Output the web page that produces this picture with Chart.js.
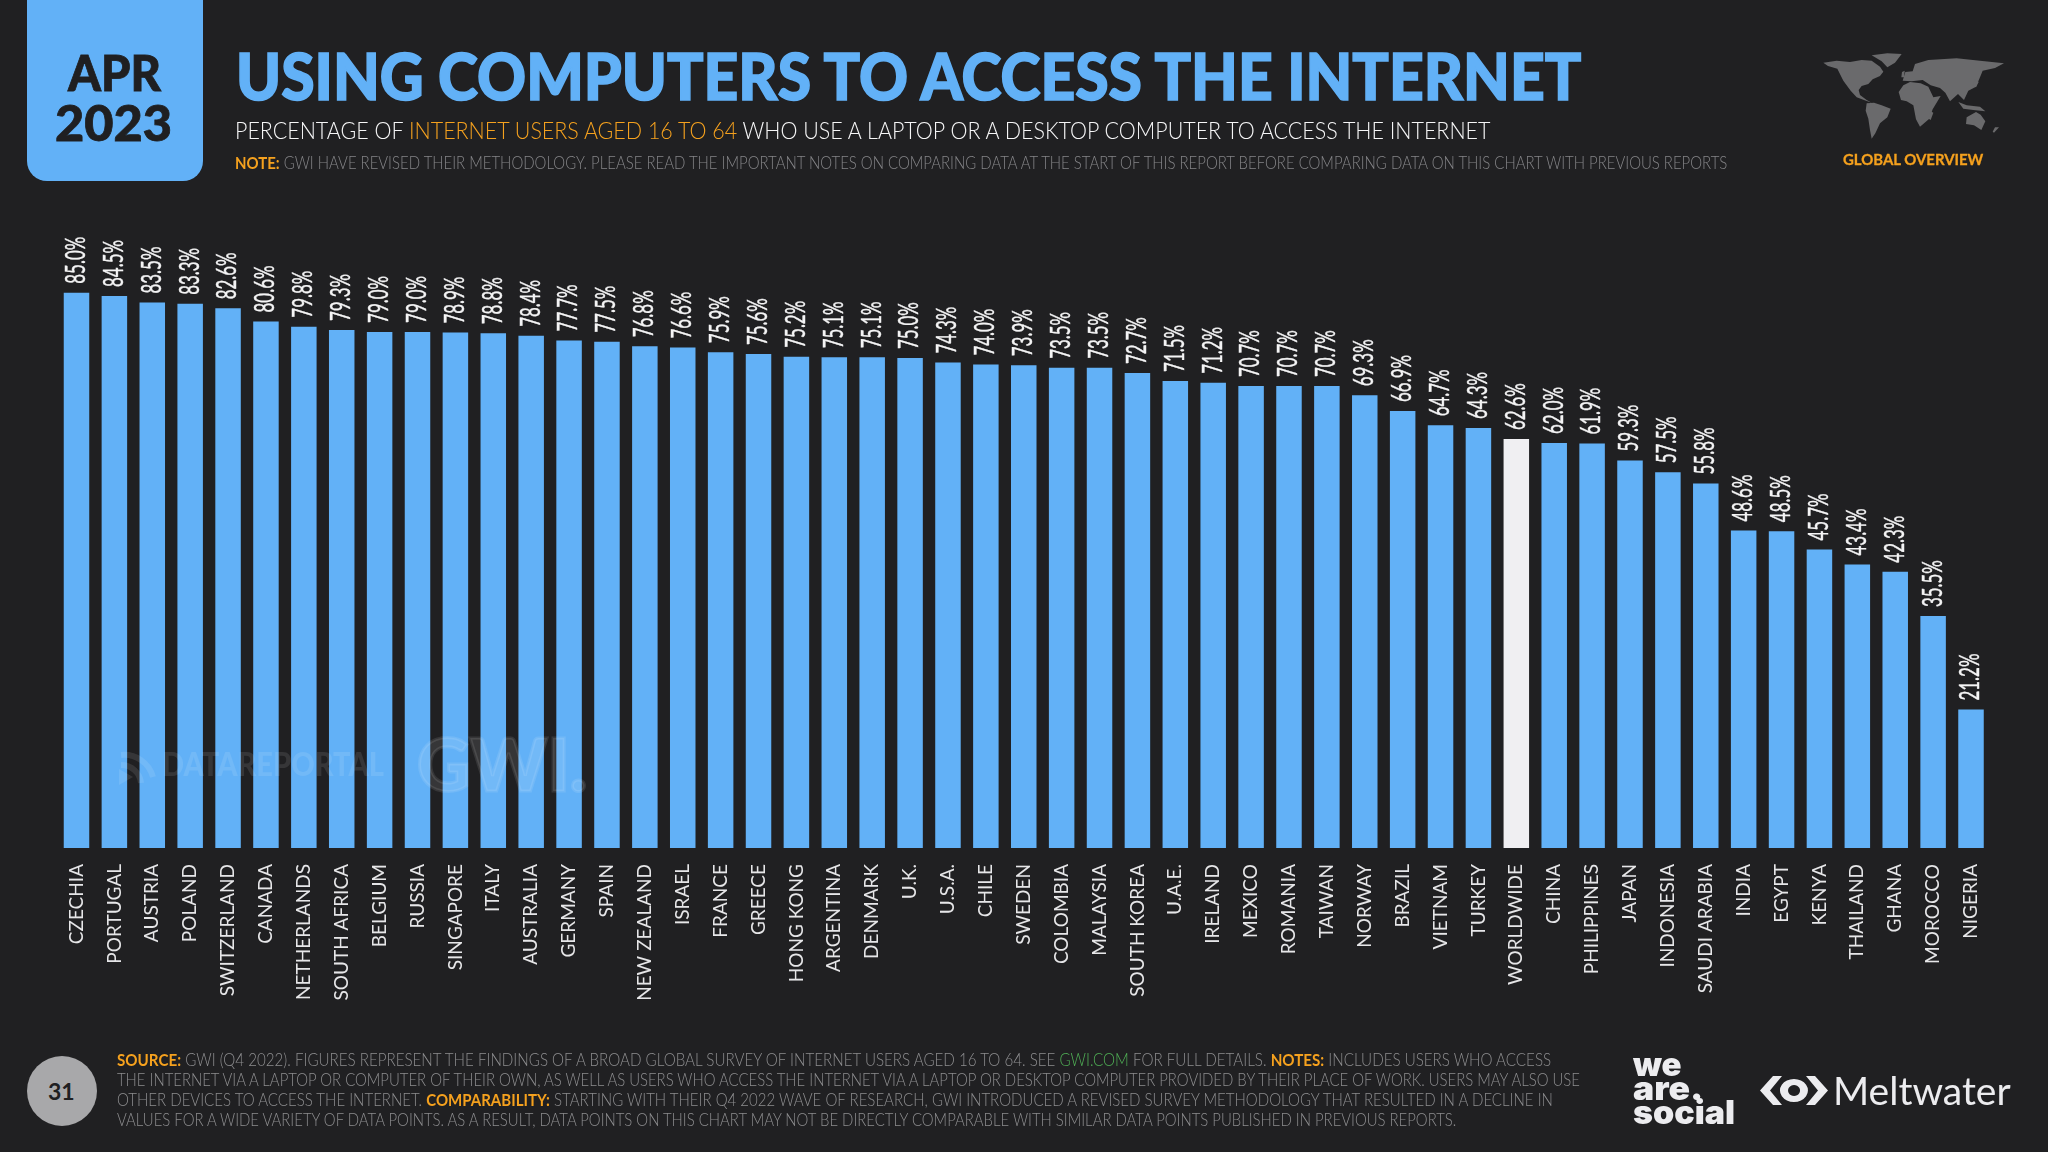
<!DOCTYPE html>
<html>
<head>
<meta charset="utf-8">
<title>Using computers to access the internet</title>
<script src="https://cdn.jsdelivr.net/npm/chart.js@4"></script>
<style>
html,body{margin:0;padding:0;background:#202022;}
#page{position:relative;width:2048px;height:1152px;overflow:hidden;background:#202022;font-family:Lato,sans-serif;}
#chart{position:absolute;left:0;top:0;}
.t{position:absolute;white-space:nowrap;line-height:1;transform-origin:0 0;}
.o{color:#f5a11e;}
.b{font-weight:700;}
.g{color:#4fae55;}
.foot{font-size:17px;font-weight:300;color:#8d8d8f;left:117px;}
#tab{position:absolute;left:27px;top:-20px;width:176px;height:201px;background:#62b1f7;border-radius:20px;}
#circle{position:absolute;left:27px;top:1056px;width:70px;height:70px;border-radius:50%;background:#a8a8aa;}
.mark{color:rgba(255,255,255,.1);font-weight:900;}
svg{position:absolute;}
</style>
</head>
<body>
<div id="page">
<canvas id="chart" width="2048" height="1152"></canvas>

<div id="tab"></div>
<div class="t" data-w="93" style="left:68px;top:47px;font-size:50px;font-weight:900;color:#1f1f21;-webkit-text-stroke:.8px #1f1f21">APR</div>
<div class="t" data-w="117" style="left:55px;top:97px;font-size:50px;font-weight:900;color:#1f1f21;-webkit-text-stroke:.8px #1f1f21">2023</div>

<div class="t" data-w="1345" style="left:236px;top:43px;font-size:65px;font-weight:900;color:#62b1f7;-webkit-text-stroke:1.6px #62b1f7">USING COMPUTERS TO ACCESS THE INTERNET</div>
<div class="t" data-w="1255" style="left:235px;top:118px;font-size:24px;font-weight:300;color:#f6f6f7">PERCENTAGE OF <span class="o">INTERNET USERS AGED 16 TO 64</span> WHO USE A LAPTOP OR A DESKTOP COMPUTER TO ACCESS THE INTERNET</div>
<div class="t" data-w="1492" style="left:235px;top:154px;font-size:17px;font-weight:300;color:#858588"><span class="o b">NOTE:</span> GWI HAVE REVISED THEIR METHODOLOGY. PLEASE READ THE IMPORTANT NOTES ON COMPARING DATA AT THE START OF THIS REPORT BEFORE COMPARING DATA ON THIS CHART WITH PREVIOUS REPORTS</div>

<svg style="left:1800px;top:40px" width="220" height="140" viewBox="0 0 660 420" fill="#6a6a6c">
<polygon points="70,68 110,62 150,66 185,60 215,62 240,80 250,95 240,108 218,118 205,132 185,138 176,150 180,165 200,180 215,188 198,182 170,172 152,152 130,122 112,86 84,78"/>
<polygon points="215,46 262,40 305,42 285,68 262,82 245,64"/>
<polygon points="200,190 222,188 245,196 272,206 262,232 240,250 226,280 215,296 210,270 205,236 197,212"/>
<polygon points="310,136 330,126 362,130 385,140 400,172 422,168 398,208 388,236 360,260 348,238 340,196 320,184 303,180 296,156"/>
<polygon points="308,122 316,96 338,94 345,72 385,60 470,55 540,62 612,70 585,84 548,92 540,112 528,140 505,152 492,180 474,162 450,184 436,158 420,144 392,136 368,120 335,124"/>
<polygon points="500,232 528,216 542,224 556,244 544,270 522,256 498,252"/>
<polygon points="475,186 500,196 540,200 556,214 520,210 490,206"/>
<polygon points="524,118 536,126 528,142 518,136"/>
<polygon points="392,214 400,218 392,240 386,236"/>
<polygon points="585,262 597,262 582,278 578,275"/>
<polygon points="306,96 314,92 312,112 304,112"/>
</svg>
<div class="t b o" data-w="140" style="left:1843px;top:151px;font-size:16px;-webkit-text-stroke:.3px #f5a11e">GLOBAL OVERVIEW</div>

<svg style="left:115px;top:745px" width="44" height="44" viewBox="0 0 44 44" fill="none" stroke="rgba(255,255,255,.1)" stroke-width="6">
<path d="M6 10 A30 30 0 0 1 38 32"/>
<path d="M6 20 A20 20 0 0 1 26 38"/>
<path d="M4 24 L4 40 L18 32 Z" fill="rgba(255,255,255,.1)" stroke="none"/>
</svg>
<div class="t mark" data-w="222" style="left:162px;top:748px;font-size:32px">DATAREPORTAL</div>
<div class="t mark" data-w="170" style="left:417px;top:727px;font-size:73px;-webkit-text-stroke:3px rgba(255,255,255,.1)">GWI.</div>

<div id="circle"></div>
<div class="t b" style="left:48px;top:1080px;font-size:23px;color:#202022">31</div>

<div class="t foot" data-w="1434" style="top:1051px"><span class="o b">SOURCE:</span> GWI (Q4 2022). FIGURES REPRESENT THE FINDINGS OF A BROAD GLOBAL SURVEY OF INTERNET USERS AGED 16 TO 64. SEE <span class="g">GWI.COM</span> FOR FULL DETAILS. <span class="o b">NOTES:</span> INCLUDES USERS WHO ACCESS</div>
<div class="t foot" data-w="1463" style="top:1071px">THE INTERNET VIA A LAPTOP OR COMPUTER OF THEIR OWN, AS WELL AS USERS WHO ACCESS THE INTERNET VIA A LAPTOP OR DESKTOP COMPUTER PROVIDED BY THEIR PLACE OF WORK. USERS MAY ALSO USE</div>
<div class="t foot" data-w="1436" style="top:1091px">OTHER DEVICES TO ACCESS THE INTERNET. <span class="o b">COMPARABILITY:</span> STARTING WITH THEIR Q4 2022 WAVE OF RESEARCH, GWI INTRODUCED A REVISED SURVEY METHODOLOGY THAT RESULTED IN A DECLINE IN</div>
<div class="t foot" data-w="1339" style="top:1111px">VALUES FOR A WIDE VARIETY OF DATA POINTS. AS A RESULT, DATA POINTS ON THIS CHART MAY NOT BE DIRECTLY COMPARABLE WITH SIMILAR DATA POINTS PUBLISHED IN PREVIOUS REPORTS.</div>

<div class="t" data-w="49" style="left:1633px;top:1048px;font-size:33px;font-weight:900;color:#ececef;font-family:Inter,sans-serif">we</div>
<div class="t" data-w="70" style="left:1633px;top:1072px;font-size:33px;font-weight:900;color:#ececef;font-family:Inter,sans-serif">are.</div>
<div class="t" data-w="102" style="left:1633px;top:1096px;font-size:33px;font-weight:900;color:#ececef;font-family:Inter,sans-serif">social</div>

<svg style="left:1760px;top:1076px" width="68" height="29" viewBox="0 0 68 29" fill="#ececef">
<polygon points="0,14.5 13,0 22,0 10,14.5 22,29 13,29"/>
<polygon points="68,14.5 55,0 46,0 58,14.5 46,29 55,29"/>
<path fill-rule="evenodd" d="M34 3 A14 11.5 0 1 1 33.9 3 Z M34 9 A6 5.5 0 1 0 34.1 9 Z"/>
</svg>
<div class="t" data-w="178" style="left:1833px;top:1071px;font-size:39px;color:#ececef">Meltwater</div>
</div>

<script>
const categories=[
    "CZECHIA","PORTUGAL","AUSTRIA","POLAND","SWITZERLAND","CANADA","NETHERLANDS","SOUTH AFRICA","BELGIUM","RUSSIA",
    "SINGAPORE","ITALY","AUSTRALIA","GERMANY","SPAIN","NEW ZEALAND","ISRAEL","FRANCE","GREECE","HONG KONG",
    "ARGENTINA","DENMARK","U.K.","U.S.A.","CHILE","SWEDEN","COLOMBIA","MALAYSIA","SOUTH KOREA","U.A.E.",
    "IRELAND","MEXICO","ROMANIA","TAIWAN","NORWAY","BRAZIL","VIETNAM","TURKEY","WORLDWIDE","CHINA",
    "PHILIPPINES","JAPAN","INDONESIA","SAUDI ARABIA","INDIA","EGYPT","KENYA","THAILAND","GHANA","MOROCCO","NIGERIA"
];
const shares=[
    85.0,84.5,83.5,83.3,82.6,80.6,79.8,79.3,79.0,79.0,
    78.9,78.8,78.4,77.7,77.5,76.8,76.6,75.9,75.6,75.2,
    75.1,75.1,75.0,74.3,74.0,73.9,73.5,73.5,72.7,71.5,
    71.2,70.7,70.7,70.7,69.3,66.9,64.7,64.3,62.6,62.0,
    61.9,59.3,57.5,55.8,48.6,48.5,45.7,43.4,42.3,35.5,21.2
];

const barBlue="#62b1f7";
const barWhite="#f0eff2";

// value labels sit above each bar, rotated and squeezed along the text direction
const valueLabels={
    id:"valueLabels",
    afterDatasetsDraw(chart){
        const ctx=chart.ctx;
        const bars=chart.getDatasetMeta(0).data;
        ctx.save();
        ctx.fillStyle="#f4f4f5";
        ctx.strokeStyle="#f4f4f5";
        ctx.lineWidth=0.4;
        ctx.font="26px Lato";
        ctx.textAlign="left";
        ctx.textBaseline="middle";
        bars.forEach((bar,i)=>{
            const text=shares[i].toFixed(1)+"%";
            ctx.save();
            ctx.translate(bar.x,bar.y-9);
            ctx.rotate(-Math.PI/2);
            ctx.scale(0.65,1);
            ctx.fillText(text,0,0);
            ctx.strokeText(text,0,0);
            ctx.restore();
        });
        ctx.restore();
    }
};

function drawChart(){
    new Chart(document.getElementById("chart"),{
        type:"bar",
        data:{
            labels:categories,
            datasets:[{
                data:shares,
                backgroundColor:categories.map(c=>c==="WORLDWIDE"?barWhite:barBlue),
                barPercentage:0.673,
                categoryPercentage:1
            }]
        },
        options:{
            responsive:false,
            animation:false,
            layout:{
                padding:{top:194.7,left:57.55,right:58.05,bottom:0}
            },
            plugins:{
                legend:{display:false},
                tooltip:{enabled:false}
            },
            scales:{
                x:{
                    offset:true,
                    afterFit(scale){scale.height=304;},
                    grid:{display:false,drawTicks:false},
                    border:{display:false},
                    ticks:{
                        autoSkip:false,
                        minRotation:90,
                        maxRotation:90,
                        padding:16,
                        color:"#e6e6e8",
                        font:{family:"Lato",size:19}
                    }
                },
                y:{
                    display:false,
                    min:0,
                    max:100
                }
            }
        },
        plugins:[valueLabels]
    });
}

// stretch header and footer lines to the widths measured in the picture
function fitText(){
    document.querySelectorAll("[data-w]").forEach(el=>{
        const k=Number(el.dataset.w)/el.offsetWidth;
        el.style.transform="scaleX("+k+")";
    });
}

document.fonts.ready.then(()=>{
    Promise.all([
        document.fonts.load("300 20px Lato"),
        document.fonts.load("20px Lato"),
        document.fonts.load("700 20px Lato"),
        document.fonts.load("900 20px Lato")
    ]).then(()=>{
        drawChart();
        fitText();
    });
});
</script>
</body>
</html>
